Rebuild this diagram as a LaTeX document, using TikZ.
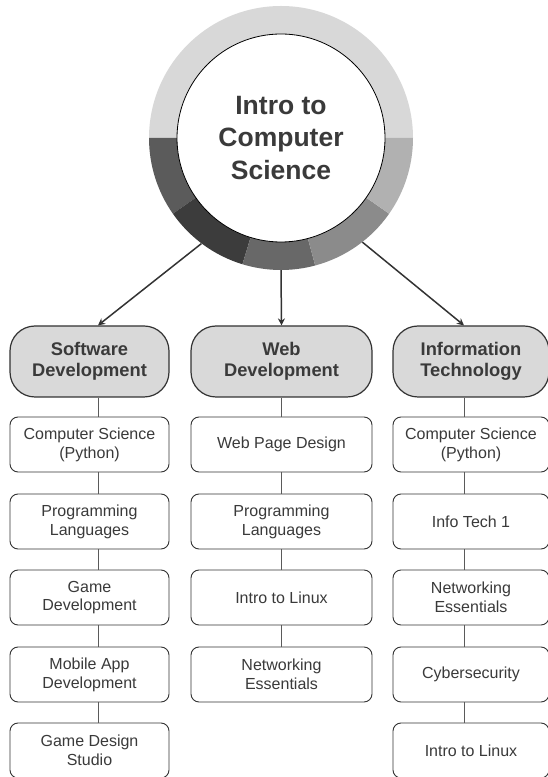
\documentclass[tikz,border=0pt]{standalone}
\usepackage{fontspec}
\setmainfont{Liberation Sans}
\usetikzlibrary{arrows.meta,calc}
\definecolor{ringA}{HTML}{D8D8D8}
\definecolor{ringB}{HTML}{5B5B5B}
\definecolor{ringC}{HTML}{3C3C3C}
\definecolor{ringD}{HTML}{686868}
\definecolor{ringE}{HTML}{8B8B8B}
\definecolor{ringF}{HTML}{B1B1B1}
\definecolor{txt}{HTML}{3A3A3A}
\definecolor{edge}{HTML}{333333}
\definecolor{hdrfill}{HTML}{D9D9D9}
\definecolor{connc}{HTML}{5A5A5A}
\tikzset{
  hdr/.style={draw=edge, line width=1.2pt, fill=hdrfill, rounded corners=25pt,
    minimum height=71pt, inner sep=0pt, align=center, text=txt,
    font=\fontsize{18.3}{21.5}\selectfont\bfseries},
  crs/.style={draw=edge, line width=0.9pt, fill=white, rounded corners=8pt,
    minimum height=55pt, inner sep=0pt, align=center, text=txt,
    font=\fontsize{16}{18.8}\selectfont},
  conn/.style={draw=connc, line width=0.9pt},
  arr/.style={draw=edge, line width=1.5pt, -{Stealth[length=7pt,width=7pt]}},
}
\begin{document}
\begin{tikzpicture}[x=1pt,y=1pt]
\useasboundingbox (0,0) rectangle (548,777);
% ring
\coordinate (cc) at (281,639);
\fill[ringA] (cc) -- ++(0:132) arc[start angle=0,end angle=180,radius=132] -- cycle;
\fill[ringB] (cc) -- ++(180:132) arc[start angle=180,end angle=215,radius=132] -- cycle;
\fill[ringC] (cc) -- ++(215:132) arc[start angle=215,end angle=253,radius=132] -- cycle;
\fill[ringD] (cc) -- ++(253:132) arc[start angle=253,end angle=285,radius=132] -- cycle;
\fill[ringE] (cc) -- ++(285:132) arc[start angle=285,end angle=325,radius=132] -- cycle;
\fill[ringF] (cc) -- ++(325:132) arc[start angle=325,end angle=360,radius=132] -- cycle;
\node[circle, minimum size=264pt, inner sep=0pt] (hub) at (cc) {};
\node[circle, draw=black, line width=0.8pt, fill=white, minimum size=208pt, inner sep=0pt,
  align=center, text=txt, font=\fontsize{26.5}{32.5}\selectfont\bfseries] (title) at (cc)
  {Intro to\\Computer\\Science};
% column x positions for connectors
\coordinate (lx) at (98,0);
\coordinate (mx) at (281.5,0);
\coordinate (rx) at (464,0);
% headers
\node[hdr, minimum width=159pt] (sw) at (89.5,415.5) {Software\\Development};
\node[hdr, minimum width=181pt] (web) at (281.5,415.5) {Web\\Development};
\node[hdr, minimum width=156pt] (it) at (471,415.5) {Information\\Technology};
% software column
\node[crs, minimum width=159pt] (s1) at (89.5,332.5) {Computer Science\\(Python)};
\node[crs, minimum width=159pt] (s2) at (89.5,255.5) {Programming\\Languages};
\node[crs, minimum width=159pt] (s3) at (89.5,179.5) {Game\\Development};
\node[crs, minimum width=159pt] (s4) at (89.5,102.5) {Mobile App\\Development};
\node[crs, minimum width=159pt] (s5) at (89.5,26.5) {Game Design\\Studio};
% web column
\node[crs, minimum width=181pt] (w1) at (281.5,332.5) {Web Page Design};
\node[crs, minimum width=181pt] (w2) at (281.5,255.5) {Programming\\Languages};
\node[crs, minimum width=181pt] (w3) at (281.5,179.5) {Intro to Linux};
\node[crs, minimum width=181pt] (w4) at (281.5,102.5) {Networking\\Essentials};
% IT column
\node[crs, minimum width=156pt] (i1) at (471,332.5) {Computer Science\\(Python)};
\node[crs, minimum width=156pt] (i2) at (471,255.5) {Info Tech 1};
\node[crs, minimum width=156pt] (i3) at (471,179.5) {Networking\\Essentials};
\node[crs, minimum width=156pt] (i4) at (471,102.5) {Cybersecurity};
\node[crs, minimum width=156pt] (i5) at (471,26.5) {Intro to Linux};
% connectors
\draw[conn] (sw.south -| lx) -- (s1.north -| lx);
\draw[conn] (s1.south -| lx) -- (s2.north -| lx);
\draw[conn] (s2.south -| lx) -- (s3.north -| lx);
\draw[conn] (s3.south -| lx) -- (s4.north -| lx);
\draw[conn] (s4.south -| lx) -- (s5.north -| lx);
\draw[conn] (web.south -| mx) -- (w1.north -| mx);
\draw[conn] (w1.south -| mx) -- (w2.north -| mx);
\draw[conn] (w2.south -| mx) -- (w3.north -| mx);
\draw[conn] (w3.south -| mx) -- (w4.north -| mx);
\draw[conn] (it.south -| rx) -- (i1.north -| rx);
\draw[conn] (i1.south -| rx) -- (i2.north -| rx);
\draw[conn] (i2.south -| rx) -- (i3.north -| rx);
\draw[conn] (i3.south -| rx) -- (i4.north -| rx);
\draw[conn] (i4.south -| rx) -- (i5.north -| rx);
% arrows
\draw[arr] (hub.-127) -- (sw.north -| lx);
\draw[arr] (hub.-90) -- (web.north);
\draw[arr] (hub.-52) -- (it.north -| rx);
\end{tikzpicture}
\end{document}
